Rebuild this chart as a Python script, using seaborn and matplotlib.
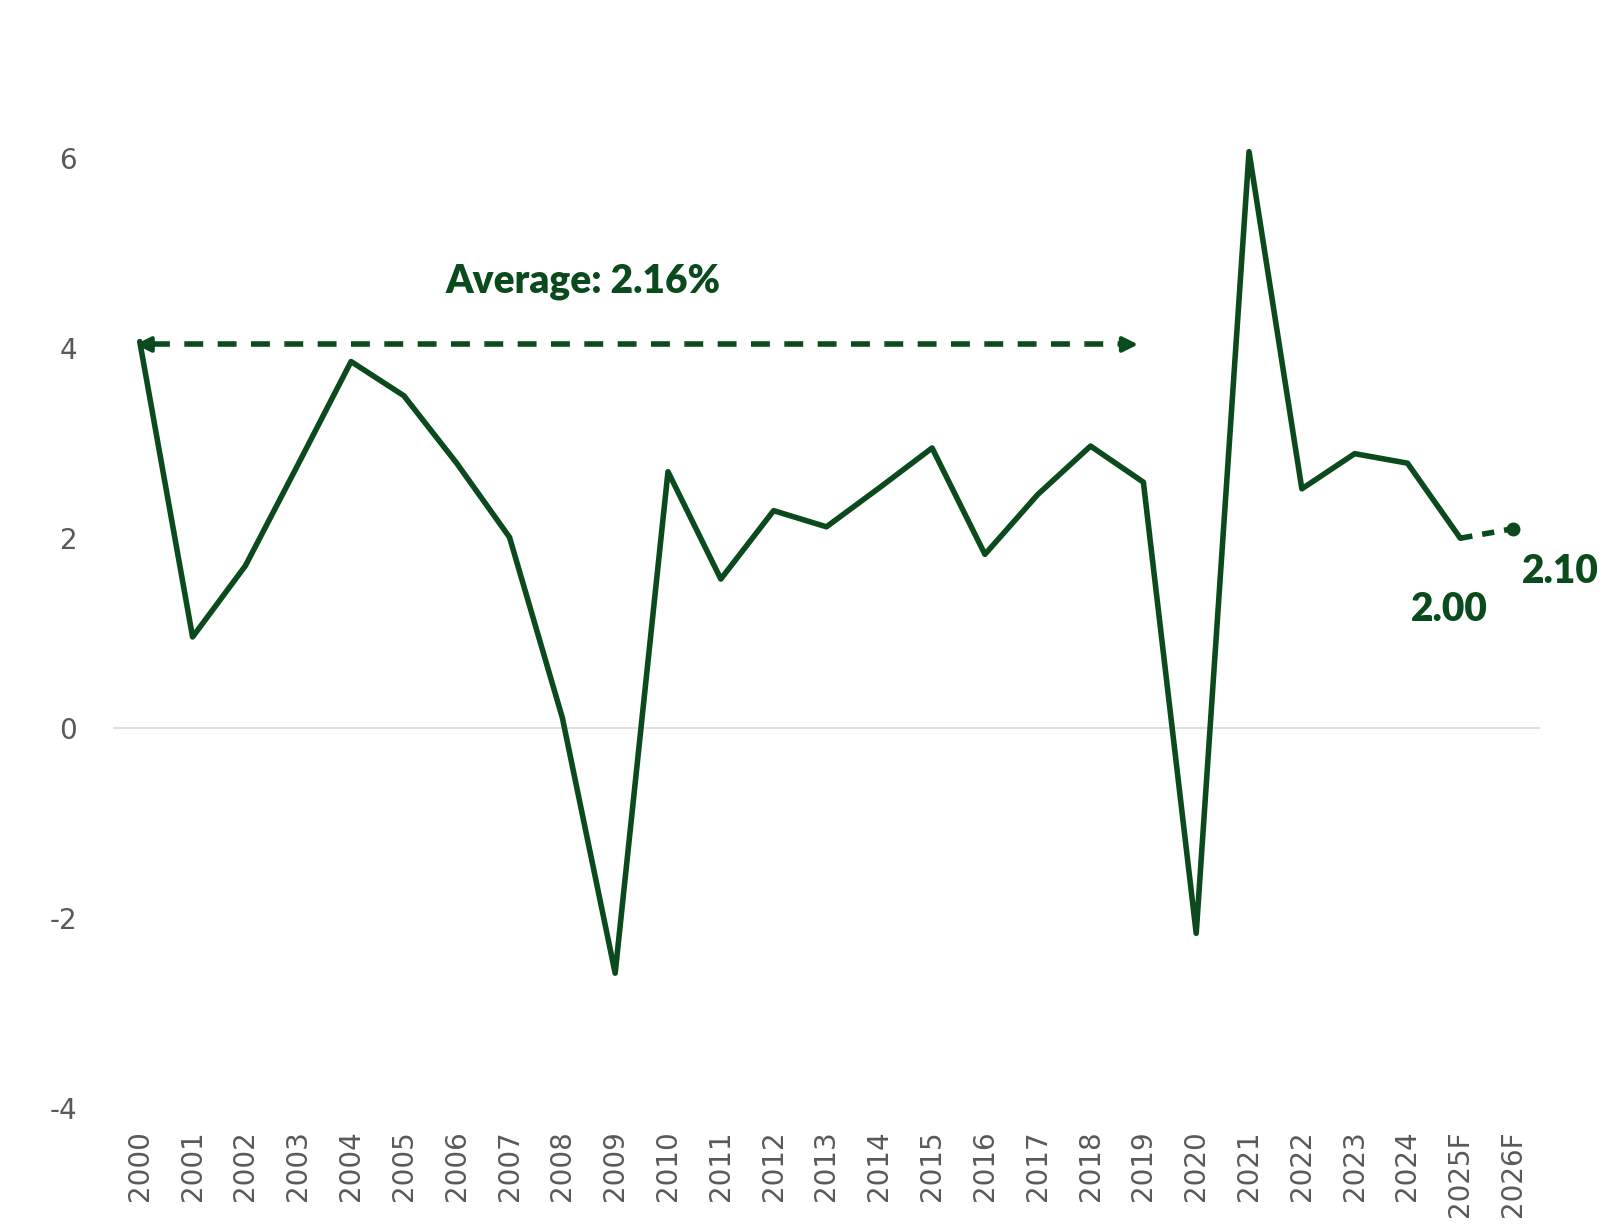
"""
Real GDP growth line with forecast tail and average annotation.
"""

import matplotlib.pyplot as plt
import numpy as np
import pandas as pd
import seaborn as sns

# ── data ──────────────────────────────────────────────────────────────────────

years = ["2000", "2001", "2002", "2003", "2004", "2005", "2006", "2007",
         "2008", "2009", "2010", "2011", "2012", "2013", "2014", "2015",
         "2016", "2017", "2018", "2019", "2020", "2021", "2022", "2023",
         "2024", "2025F", "2026F"]
growth = [4.07, 0.96, 1.71, 2.78, 3.86, 3.50, 2.79, 2.01,
          0.11, -2.58, 2.70, 1.57, 2.29, 2.12, 2.53, 2.95,
          1.83, 2.46, 2.97, 2.59, -2.16, 6.07, 2.52, 2.89,
          2.79, 2.00, 2.10]
avg_label = "Average: 2.16%"
avg_level = 4.04
avg_span = (-0.08, 18.9)
yticks = [-4, -2, 0, 2, 4, 6]

GREEN = "#0b4a1c"
GREY = "#595959"

df = pd.DataFrame({"pos": np.arange(len(years)), "year": years, "growth": growth})
actual = df.iloc[:-1]
forecast = df.iloc[-2:]

# ── plot ──────────────────────────────────────────────────────────────────────

sns.set_style("white")
plt.rcParams["font.family"] = ["DejaVu Sans"]

fig = plt.figure(figsize=(16.17, 12.32), dpi=100)
ax = fig.add_axes([0.0701, 0.1006, 0.882, 0.848])

ax.axhline(0, color="#d9d9d9", lw=1.2, zorder=1)

sns.lineplot(data=actual, x="pos", y="growth", color=GREEN, lw=4,
             ax=ax, zorder=3)
sns.lineplot(data=forecast, x="pos", y="growth", color=GREEN, lw=4,
             ax=ax, zorder=3, dashes=False, linestyle=(0, (2.2, 1.8)))
ax.plot(forecast["pos"].iloc[-1], forecast["growth"].iloc[-1], "o",
        color=GREEN, ms=9, zorder=4)

# average arrow
ax.plot([avg_span[0] + 0.3, avg_span[1] - 0.3], [avg_level, avg_level],
        color=GREEN, lw=4, linestyle=(0, (3.4, 2.6)), zorder=2)
for tip, tail in [(avg_span[0], avg_span[0] + 0.35), (avg_span[1], avg_span[1] - 0.35)]:
    ax.annotate("", xy=(tip, avg_level), xytext=(tail, avg_level),
                arrowprops=dict(arrowstyle="-|>,head_length=0.9,head_width=0.45",
                                color=GREEN, lw=3, shrinkA=0, shrinkB=0))
ax.text(8.4, 4.7, avg_label, color=GREEN, fontsize=28, fontweight="heavy",
        family="Lato", ha="center", va="center")

# end labels
ax.text(24.8, 1.25, "2.00", color=GREEN, fontsize=28, fontweight="heavy",
        family="Lato", ha="center", va="center")
ax.text(26.9, 1.65, "2.10", color=GREEN, fontsize=28, fontweight="heavy",
        family="Lato", ha="center", va="center")

ax.set_xlim(-0.5, len(years) - 0.5)
ax.set_ylim(-4, 7)
ax.set_xticks(df["pos"])
ax.set_xticklabels(years, rotation=90, fontsize=20, color=GREY)
ax.set_yticks(yticks)
ax.set_yticklabels([str(t) for t in yticks], fontsize=20, color=GREY,
                   family="Liberation Sans Narrow")
ax.tick_params(axis="x", length=0, pad=16)
ax.tick_params(axis="y", length=0, pad=26)
ax.set_xlabel("")
ax.set_ylabel("")
sns.despine(ax=ax, left=True, bottom=True)

fig.savefig("out.png")
